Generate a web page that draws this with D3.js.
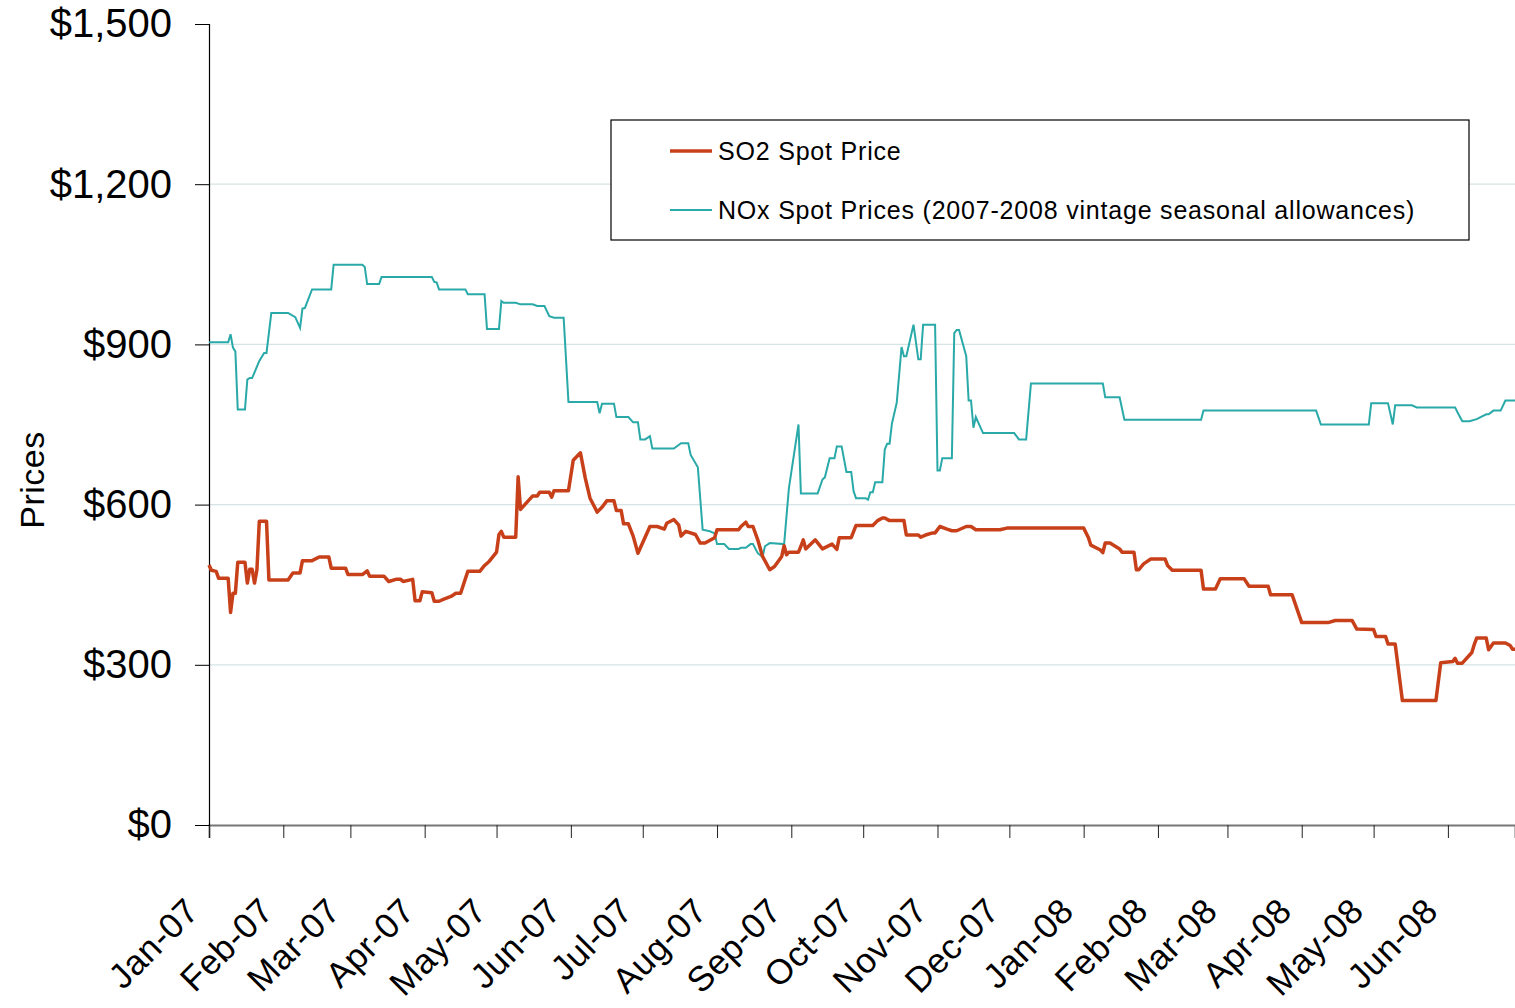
<!DOCTYPE html>
<html>
<head>
<meta charset="utf-8">
<script src="https://cdn.jsdelivr.net/npm/d3@7"></script>
<style>
body { margin: 0; background: #fff; }
text { font-family: "Liberation Sans", Arial, sans-serif; fill: #000; }
</style>
</head>
<body>
<script>
var width = 1515,
    height = 1008;

// SO2 spot price ([date, $])
var so2Points = [
  ["2007-01-01",487],["2007-01-02",477],["2007-01-04",475],["2007-01-05",462],["2007-01-09",462],
  ["2007-01-10",398],["2007-01-11",434],["2007-01-12",434],["2007-01-13",492],["2007-01-16",492],
  ["2007-01-17",453],["2007-01-18",479],["2007-01-19",479],["2007-01-20",453],["2007-01-21",478],
  ["2007-01-22",569],["2007-01-25",569],["2007-01-26",459],["2007-02-03",459],["2007-02-05",472],
  ["2007-02-08",472],["2007-02-09",495],["2007-02-13",495],["2007-02-16",502],["2007-02-20",502],
  ["2007-02-21",481],["2007-02-27",481],["2007-02-28",469],["2007-03-06",469],["2007-03-08",476],
  ["2007-03-09",466],["2007-03-15",466],["2007-03-17",456],["2007-03-20",460],["2007-03-22",460],
  ["2007-03-23",456],["2007-03-27",460],["2007-03-28",420],["2007-03-30",420],["2007-03-31",437],
  ["2007-04-04",435],["2007-04-05",419],["2007-04-07",419],["2007-04-09",423],["2007-04-12",428],
  ["2007-04-14",434],["2007-04-16",434],["2007-04-19",475],["2007-04-24",475],["2007-04-26",486],
  ["2007-04-28",494],["2007-05-01",511],["2007-05-02",544],["2007-05-03",550],["2007-05-04",539],
  ["2007-05-09",539],["2007-05-10",652],["2007-05-11",591],["2007-05-16",616],["2007-05-18",616],
  ["2007-05-19",623],["2007-05-23",623],["2007-05-24",614],["2007-05-25",626],["2007-05-31",626],
  ["2007-06-02",683],["2007-06-05",697],["2007-06-07",650],["2007-06-09",612],["2007-06-12",586],
  ["2007-06-14",595],["2007-06-16",607],["2007-06-19",607],["2007-06-20",589],["2007-06-22",589],
  ["2007-06-23",564],["2007-06-25",564],["2007-06-27",541],["2007-06-29",509],["2007-07-04",559],
  ["2007-07-07",559],["2007-07-10",554],["2007-07-11",565],["2007-07-14",572],["2007-07-16",562],
  ["2007-07-17",541],["2007-07-19",550],["2007-07-23",544],["2007-07-25",528],["2007-07-27",528],
  ["2007-07-31",538],["2007-08-01",553],["2007-08-10",553],["2007-08-11",559],["2007-08-13",567],
  ["2007-08-14",559],["2007-08-16",559],["2007-08-18",534],["2007-08-20",503],["2007-08-23",478],
  ["2007-08-25",484],["2007-08-28",503],["2007-08-29",523],["2007-08-30",506],["2007-08-31",511],
  ["2007-09-04",511],["2007-09-05",522],["2007-09-06",534],["2007-09-07",517],["2007-09-11",534],
  ["2007-09-14",517],["2007-09-18",526],["2007-09-20",516],["2007-09-21",538],["2007-09-26",538],
  ["2007-09-28",561],["2007-10-05",561],["2007-10-07",570],["2007-10-09",575],["2007-10-10",575],
  ["2007-10-12",570],["2007-10-18",570],["2007-10-19",543],["2007-10-24",543],["2007-10-25",539],
  ["2007-10-27",543],["2007-10-30",547],["2007-10-31",547],["2007-11-02",559],["2007-11-05",554],
  ["2007-11-07",551],["2007-11-09",551],["2007-11-13",559],["2007-11-15",559],["2007-11-17",553],
  ["2007-11-27",553],["2007-11-30",556],["2008-01-01",556],["2008-01-03",538],["2008-01-04",524],
  ["2008-01-08",515],["2008-01-09",510],["2008-01-10",528],["2008-01-12",528],["2008-01-16",517],
  ["2008-01-17",511],["2008-01-22",511],["2008-01-23",478],["2008-01-24",478],["2008-01-26",489],
  ["2008-01-29",498],["2008-02-04",498],["2008-02-05",486],["2008-02-07",477],["2008-02-19",477],
  ["2008-02-20",442],["2008-02-25",442],["2008-02-27",461],["2008-03-08",461],["2008-03-10",447],
  ["2008-03-18",447],["2008-03-19",431],["2008-03-28",431],["2008-04-01",379],["2008-04-12",379],
  ["2008-04-15",383],["2008-04-22",383],["2008-04-24",367],["2008-05-01",366],["2008-05-02",353],
  ["2008-05-06",353],["2008-05-07",339],["2008-05-10",339],["2008-05-13",233],["2008-05-27",233],
  ["2008-05-29",304],["2008-06-03",306],["2008-06-04",312],["2008-06-05",303],["2008-06-07",303],
  ["2008-06-11",323],["2008-06-12",338],["2008-06-13",350],["2008-06-17",350],["2008-06-18",328],
  ["2008-06-20",341],["2008-06-25",341],["2008-06-27",336],["2008-06-28",329],["2008-06-29",329]
];

// NOx spot prices (2007-2008 vintage seasonal allowances)
var noxPoints = [
  ["2007-01-01",904],["2007-01-09",904],["2007-01-10",919],["2007-01-11",894],["2007-01-12",887],
  ["2007-01-13",778],["2007-01-16",778],["2007-01-17",834],["2007-01-18",837],["2007-01-19",837],
  ["2007-01-22",869],["2007-01-24",884],["2007-01-25",884],["2007-01-27",959],["2007-02-03",959],
  ["2007-02-06",951],["2007-02-08",931],["2007-02-09",967],["2007-02-10",968],["2007-02-13",1003],
  ["2007-02-21",1003],["2007-02-22",1049],["2007-03-06",1049],["2007-03-07",1045],["2007-03-08",1013],
  ["2007-03-13",1013],["2007-03-14",1026],["2007-04-04",1026],["2007-04-05",1017],["2007-04-06",1016],
  ["2007-04-07",1003],["2007-04-18",1003],["2007-04-19",994],["2007-04-26",994],["2007-04-27",929],
  ["2007-05-02",929],["2007-05-03",981],["2007-05-04",978],["2007-05-09",978],["2007-05-11",975],
  ["2007-05-16",975],["2007-05-18",972],["2007-05-21",972],["2007-05-23",953],["2007-05-25",950],
  ["2007-05-29",950],["2007-05-31",792],["2007-06-12",792],["2007-06-13",771],["2007-06-14",789],
  ["2007-06-19",789],["2007-06-20",764],["2007-06-25",764],["2007-06-27",754],["2007-06-29",754],
  ["2007-06-30",722],["2007-07-02",722],["2007-07-04",728],["2007-07-05",705],["2007-07-14",705],
  ["2007-07-17",715],["2007-07-20",715],["2007-07-21",693],["2007-07-24",670],["2007-07-26",553],
  ["2007-07-29",550],["2007-07-31",546],["2007-08-01",526],["2007-08-04",526],["2007-08-06",517],
  ["2007-08-10",517],["2007-08-11",519],["2007-08-13",519],["2007-08-15",526],["2007-08-16",526],
  ["2007-08-18",509],["2007-08-20",502],["2007-08-21",522],["2007-08-23",528],["2007-08-29",526],
  ["2007-08-31",631],["2007-09-04",750],["2007-09-05",621],["2007-09-12",621],["2007-09-14",647],
  ["2007-09-15",651],["2007-09-17",687],["2007-09-19",687],["2007-09-20",709],["2007-09-22",709],
  ["2007-09-24",661],["2007-09-26",661],["2007-09-27",625],["2007-09-28",612],["2007-10-02",612],
  ["2007-10-03",609],["2007-10-04",623],["2007-10-05",623],["2007-10-06",642],["2007-10-09",642],
  ["2007-10-10",703],["2007-10-11",714],["2007-10-12",714],["2007-10-13",752],["2007-10-15",791],
  ["2007-10-17",895],["2007-10-18",878],["2007-10-19",878],["2007-10-22",937],["2007-10-24",872],
  ["2007-10-25",872],["2007-10-26",937],["2007-10-31",937],["2007-11-01",664],["2007-11-02",664],
  ["2007-11-03",687],["2007-11-07",687],["2007-11-08",921],["2007-11-09",927],["2007-11-10",927],
  ["2007-11-13",878],["2007-11-14",795],["2007-11-15",795],["2007-11-16",744],["2007-11-17",764],
  ["2007-11-20",734],["2007-12-03",734],["2007-12-05",722],["2007-12-08",722],["2007-12-10",827],
  ["2008-01-09",827],["2008-01-10",801],["2008-01-16",801],["2008-01-18",759],["2008-02-19",759],
  ["2008-02-20",776],["2008-04-07",776],["2008-04-09",750],["2008-04-29",750],["2008-04-30",790],
  ["2008-05-07",790],["2008-05-09",750],["2008-05-10",786],["2008-05-17",786],["2008-05-19",782],
  ["2008-06-04",782],["2008-06-05",773],["2008-06-07",756],["2008-06-10",756],["2008-06-13",760],
  ["2008-06-17",769],["2008-06-18",769],["2008-06-20",776],["2008-06-23",776],["2008-06-25",795],
  ["2008-06-29",795]
];

var yTicks = [0, 300, 600, 900, 1200, 1500];
var gridValues = [300, 600, 900, 1200];
var seriesNames = ["SO2 Spot Price", "NOx Spot Prices (2007-2008 vintage seasonal allowances)"];
var seriesColors = ["#c8401a", "#2aa9a9"];

var parseDate = d3.timeParse("%Y-%m-%d");
var so2 = so2Points.map(function(d) { return {date: parseDate(d[0]), value: d[1]}; });
var nox = noxPoints.map(function(d) { return {date: parseDate(d[0]), value: d[1]}; });

var svg = d3.select("body").append("svg")
    .attr("width", width)
    .attr("height", height);

var x = d3.scaleTime()
    .domain([new Date(2007, 0, 1), new Date(2008, 5, 29)])
    .range([209, 1515]);

var y = d3.scaleLinear()
    .domain([0, 1500])
    .range([825, 24]);

// gridlines
svg.selectAll(".grid")
  .data(gridValues)
  .enter().append("line")
  .attr("x1", 209).attr("x2", 1515)
  .attr("y1", function(d) { return y(d); })
  .attr("y2", function(d) { return y(d); })
  .attr("stroke", "#d5e3e5")
  .attr("stroke-width", 1.2);

// x axis
var monthTicks = d3.timeMonth.range(new Date(2007, 0, 1), new Date(2008, 5, 2));
var xAxis = svg.append("g")
  .attr("transform", "translate(0,825)")
  .call(d3.axisBottom(x).tickValues(monthTicks).tickSize(13).tickFormat(""));
xAxis.select(".domain").attr("stroke", "#777").attr("stroke-width", 2);
xAxis.selectAll(".tick line").attr("stroke", "#222");

svg.selectAll(".xlab")
  .data(monthTicks)
  .enter().append("text")
  .attr("transform", function(d) { return "translate(" + (x(d) - 8) + ",913) rotate(-45)"; })
  .attr("text-anchor", "end")
  .style("font-size", "35px")
  .style("letter-spacing", "0.5px")
  .text(d3.timeFormat("%b-%y"));

// y axis
var yAxis = svg.append("g")
  .attr("transform", "translate(209,0)")
  .call(d3.axisLeft(y).tickValues(yTicks).tickSize(14).tickPadding(23).tickFormat(d3.format("$,")));
yAxis.select(".domain").attr("stroke", "#000").attr("stroke-width", 1.2);
yAxis.selectAll(".tick line").attr("stroke", "#000");
yAxis.selectAll("text")
  .style("font-family", "'Liberation Sans', Arial, sans-serif")
  .style("font-size", "40px")
  .attr("fill", "#000");

svg.append("text")
  .attr("transform", "translate(44,480) rotate(-90)")
  .attr("text-anchor", "middle")
  .style("font-size", "34px")
  .style("letter-spacing", "0.5px")
  .text("Prices");

// lines
var line = d3.line()
  .x(function(d) { return x(d.date); })
  .y(function(d) { return y(d.value); });

svg.append("path")
  .datum(nox)
  .attr("fill", "none")
  .attr("stroke", seriesColors[1])
  .attr("stroke-width", 2)
  .attr("d", line);

svg.append("path")
  .datum(so2)
  .attr("fill", "none")
  .attr("stroke", seriesColors[0])
  .attr("stroke-width", 3.5)
  .attr("stroke-linejoin", "round")
  .attr("d", line);

// legend
var legend = svg.append("g");
legend.append("rect")
  .attr("x", 611).attr("y", 120)
  .attr("width", 858).attr("height", 120)
  .attr("fill", "#fff")
  .attr("stroke", "#000")
  .attr("stroke-width", 1.2);

var items = legend.selectAll(".item")
  .data(seriesNames)
  .enter().append("g")
  .attr("transform", function(d, i) { return "translate(0," + (151 + i * 59) + ")"; });

items.append("line")
  .attr("x1", 670).attr("x2", 712)
  .attr("stroke", function(d, i) { return seriesColors[i]; })
  .attr("stroke-width", function(d, i) { return i === 0 ? 3.5 : 2; });

items.append("text")
  .attr("x", 718)
  .attr("dy", "0.35em")
  .style("font-size", "25px")
  .style("letter-spacing", "0.8px")
  .text(function(d) { return d; });
</script>
</body>
</html>
